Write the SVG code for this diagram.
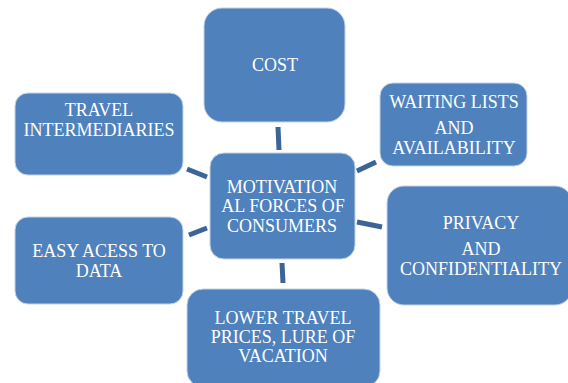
<svg xmlns="http://www.w3.org/2000/svg" width="568" height="383" viewBox="0 0 568 383">
<style>
.box{fill:#4f81bd;stroke:#c3d3e8;stroke-width:1}
.lbl{font-family:"Times New Roman","Liberation Serif",Tinos,"DejaVu Serif",serif;font-size:18px;fill:#ffffff;text-anchor:middle}
.con{stroke:#3b6597;stroke-width:5;fill:none}
</style>
<rect width="568" height="383" fill="#ffffff"/>
<g id="connectors">
<line class="con" x1="278" y1="127" x2="279" y2="150"/>
<line class="con" x1="187" y1="169" x2="207" y2="177"/>
<line class="con" x1="357" y1="171" x2="376" y2="162"/>
<line class="con" x1="357" y1="222" x2="382" y2="227"/>
<line class="con" x1="189" y1="235" x2="207" y2="228"/>
<line class="con" x1="282" y1="263" x2="283" y2="283"/>
</g>
<g id="cost">
<rect class="box" x="204" y="8" width="141" height="114" rx="18"/>
<text class="lbl" x="275" y="71">COST</text>
</g>
<g id="travel-intermediaries">
<rect class="box" x="15" y="93" width="168" height="82" rx="13"/>
<text class="lbl" x="99" y="116">TRAVEL</text>
<text class="lbl" x="99" y="136">INTERMEDIARIES</text>
</g>
<g id="waiting-lists">
<rect class="box" x="380" y="83" width="147" height="83" rx="13"/>
<text class="lbl" x="454" y="108">WAITING LISTS</text>
<text class="lbl" x="454" y="134">AND</text>
<text class="lbl" x="454" y="154">AVAILABILITY</text>
</g>
<g id="center">
<rect class="box" x="210" y="153" width="145" height="106" rx="14"/>
<text class="lbl" x="282" y="193">MOTIVATION</text>
<text class="lbl" x="283" y="212">AL FORCES OF</text>
<text class="lbl" x="282" y="232">CONSUMERS</text>
</g>
<g id="privacy">
<rect class="box" x="387" y="186" width="185" height="119" rx="17"/>
<text class="lbl" x="481" y="229">PRIVACY</text>
<text class="lbl" x="481" y="255">AND</text>
<text class="lbl" x="481" y="275">CONFIDENTIALITY</text>
</g>
<g id="easy-access">
<rect class="box" x="15" y="217" width="168" height="87" rx="13"/>
<text class="lbl" x="99" y="257">EASY ACESS TO</text>
<text class="lbl" x="99" y="277">DATA</text>
</g>
<g id="lower-prices">
<rect class="box" x="187" y="289" width="193" height="98" rx="16"/>
<text class="lbl" x="283" y="324">LOWER TRAVEL</text>
<text class="lbl" x="283" y="343">PRICES, LURE OF</text>
<text class="lbl" x="283" y="362">VACATION</text>
</g>
</svg>
